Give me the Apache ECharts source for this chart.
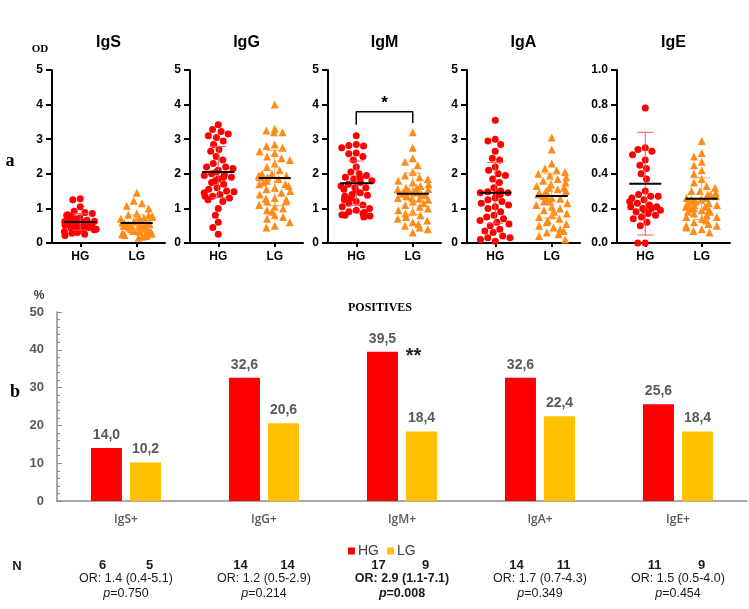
<!DOCTYPE html>
<html><head><meta charset="utf-8">
<script src="https://cdn.jsdelivr.net/npm/echarts@6/dist/echarts.min.js"></script>
<style>html,body{margin:0;padding:0;background:#fff}#c{width:749px;height:609px}</style>
</head><body><div id="c"></div>
<script>
// ---------- DATA: panel a (OD values) ----------
const panels = ['IgS', 'IgG', 'IgM', 'IgA', 'IgE'];
const groups = ['HG', 'LG'];
const yMax = [5, 5, 5, 5, 1.0];
const yInterval = [1, 1, 1, 1, 0.2];

const igS_HG = [1.28,1.25,1.05,0.92,0.88,0.85,0.82,0.8,0.78,0.75,0.72,0.7,0.7,0.68,0.66,0.65,0.63,0.62,0.6,0.6,0.58,0.57,0.55,0.55,0.53,0.52,0.5,0.5,0.48,0.47,0.45,0.44,0.42,0.4,0.4,0.38,0.36,0.35,0.33,0.3,0.28,0.25,0.22];
const igS_LG = [1.45,1.22,1.15,1.08,1.0,0.85,0.82,0.8,0.78,0.75,0.72,0.7,0.68,0.66,0.65,0.63,0.62,0.6,0.58,0.57,0.55,0.54,0.53,0.52,0.5,0.5,0.48,0.47,0.46,0.45,0.44,0.42,0.41,0.4,0.38,0.37,0.35,0.34,0.33,0.32,0.3,0.28,0.27,0.25,0.23,0.22,0.2,0.18,0.15];
const igG_HG = [3.42,3.28,3.22,3.15,3.1,3.05,2.95,2.85,2.7,2.65,2.5,2.4,2.3,2.2,2.2,2.15,2.1,2.05,2.0,1.98,1.95,1.9,1.9,1.85,1.8,1.75,1.7,1.6,1.55,1.5,1.48,1.45,1.4,1.35,1.35,1.3,1.25,1.2,1.0,0.8,0.6,0.45,0.25];
const igG_LG = [4.0,3.3,3.25,3.2,3.2,2.85,2.8,2.75,2.65,2.6,2.5,2.45,2.4,2.3,2.2,2.1,2.0,2.0,1.95,1.95,1.9,1.9,1.85,1.8,1.75,1.7,1.7,1.65,1.6,1.55,1.5,1.45,1.4,1.3,1.28,1.25,1.2,1.2,1.1,1.05,1.0,0.95,0.9,0.8,0.75,0.7,0.6,0.5,0.45];
const igM_HG = [3.1,2.85,2.82,2.8,2.75,2.6,2.58,2.5,2.4,2.2,2.05,2.0,1.95,1.9,1.88,1.85,1.8,1.75,1.7,1.65,1.6,1.6,1.55,1.5,1.45,1.4,1.38,1.35,1.3,1.25,1.2,1.15,1.1,1.05,1.0,0.95,0.9,0.88,0.85,0.82,0.8,0.78,0.75];
const igM_LG = [3.2,2.75,2.45,2.35,2.25,2.05,1.95,1.9,1.85,1.8,1.75,1.7,1.65,1.6,1.6,1.55,1.55,1.5,1.5,1.48,1.45,1.45,1.42,1.4,1.38,1.35,1.35,1.3,1.3,1.28,1.25,1.2,1.15,1.1,1.05,1.0,0.95,0.9,0.85,0.8,0.75,0.7,0.65,0.6,0.55,0.5,0.45,0.4,0.3];
const igA_HG = [3.55,3.0,2.95,2.85,2.65,2.45,2.4,2.2,2.1,2.0,1.95,1.85,1.75,1.6,1.5,1.48,1.45,1.45,1.42,1.4,1.3,1.25,1.2,1.15,1.1,1.05,1.0,0.9,0.8,0.75,0.7,0.65,0.6,0.55,0.5,0.4,0.35,0.3,0.2,0.15,0.15,0.1,0.05];
const igA_LG = [3.05,2.7,2.3,2.15,2.1,2.05,2.0,1.95,1.9,1.85,1.8,1.75,1.7,1.65,1.6,1.6,1.55,1.5,1.5,1.45,1.4,1.35,1.35,1.3,1.28,1.25,1.2,1.2,1.15,1.1,1.05,1.0,0.95,0.9,0.85,0.8,0.75,0.7,0.65,0.6,0.55,0.5,0.45,0.4,0.35,0.3,0.25,0.2,0.1];
const igE_HG = [0.78,0.55,0.54,0.53,0.51,0.48,0.45,0.43,0.40,0.37,0.30,0.28,0.27,0.27,0.26,0.25,0.24,0.23,0.22,0.21,0.21,0.20,0.20,0.19,0.19,0.18,0.17,0.16,0.15,0.14,0.12,0.10,0.0,0.0];
const igE_LG = [0.59,0.52,0.5,0.47,0.45,0.42,0.4,0.37,0.35,0.33,0.32,0.3,0.3,0.29,0.28,0.28,0.27,0.26,0.26,0.25,0.25,0.24,0.24,0.23,0.23,0.22,0.22,0.21,0.21,0.2,0.2,0.19,0.19,0.18,0.18,0.17,0.16,0.15,0.15,0.14,0.13,0.12,0.11,0.1,0.1,0.09,0.08,0.07,0.06];

const meanHG = [0.61, 2.05, 1.73, 1.45, 0.343];
const sdHG   = [0.24, 0.74, 0.64, 0.88, 0.297];
const meanLG = [0.58, 1.88, 1.42, 1.36, 0.256];
const sdLG   = [0.23, 0.80, 0.60, 0.64, 0.12];

// ---------- DATA: panel b (positives %) ----------
const barCats = ['IgS+', 'IgG+', 'IgM+', 'IgA+', 'IgE+'];
const posHG = [14.0, 32.6, 39.5, 32.6, 25.6];
const posLG = [10.2, 20.6, 18.4, 22.4, 18.4];
const nHG = [6, 14, 17, 14, 11];
const nLG = [5, 14, 9, 11, 9];
const orText = ['1.4 (0.4-5.1)', '1.2 (0.5-2.9)', '2.9 (1.1-7.1)', '1.7 (0.7-4.3)', '1.5 (0.5-4.0)'];
const pText = ['0.750', '0.214', '0.008', '0.349', '0.454'];
const significant = [false, false, true, false, false];

// ---------- LAYOUT / STYLE ----------
const points = [[igS_HG, igS_LG], [igG_HG, igG_LG], [igM_HG, igM_LG], [igA_HG, igA_LG], [igE_HG, igE_LG]];
const panelLeft = [52, 190, 328, 467, 617];
const panelW = 113;
const RED = '#ff0000', ORANGE = '#ff8c1a', YEL = '#ffc000';
const SANS = 'Liberation Sans, Arial, sans-serif';
const SERIF = 'Liberation Serif, Times New Roman, serif';

const chart = echarts.init(document.getElementById('c'), null, {renderer: 'canvas'});

const grid = [], xAxis = [], yAxis = [], series = [];
panels.forEach((p, i) => {
  grid.push({left: panelLeft[i], top: 70, width: panelW, height: 173});
  xAxis.push({
    type: 'category', gridIndex: i, data: groups,
    jitter: 32, jitterOverlap: false, jitterMargin: 0.5,
    axisLine: {lineStyle: {color: '#000', width: 2}},
    axisTick: {show: true, alignWithLabel: true, length: 4, lineStyle: {width: 2, color: '#000'}},
    axisLabel: {color: '#000', fontFamily: SANS, fontWeight: 'bold', fontSize: 12, margin: 8},
    splitLine: {show: false}
  });
  yAxis.push({
    type: 'value', gridIndex: i, min: 0, max: yMax[i], interval: yInterval[i],
    axisLine: {show: true, lineStyle: {color: '#000', width: 2}},
    axisTick: {show: true, length: 6, lineStyle: {width: 2, color: '#000'}},
    axisLabel: {color: '#000', fontFamily: SANS, fontWeight: 'bold', fontSize: 12, margin: 9,
      formatter: v => i === 4 ? v.toFixed(1) : String(v)},
    splitLine: {show: false}
  });
  series.push({
    type: 'scatter', xAxisIndex: i, yAxisIndex: i, symbol: 'circle', symbolSize: 7,
    itemStyle: {color: RED, opacity: 1}, data: points[i][0].map(v => ['HG', v]), z: 2
  });
  series.push({
    type: 'scatter', xAxisIndex: i, yAxisIndex: i, symbol: 'triangle', symbolSize: 8,
    itemStyle: {color: ORANGE, opacity: 1}, data: points[i][1].map(v => ['LG', v]), z: 2
  });
  series.push({
    type: 'custom', xAxisIndex: i, yAxisIndex: i, z: 5, silent: true,
    encode: {x: 0, y: 1},
    data: [[0, meanHG[i], sdHG[i]], [1, meanLG[i], sdLG[i]]],
    renderItem: (params, api) => {
      const x = api.value(0), m = api.value(1), s = api.value(2);
      const c = api.coord([x, m]);
      const t = api.coord([x, m + s]);
      const b = api.coord([x, Math.max(0, m - s)]);
      const col = x === 0 ? '#ff5050' : '#ffa040';
      return {type: 'group', children: [
        {type: 'line', shape: {x1: c[0], y1: t[1], x2: c[0], y2: b[1]}, style: {stroke: col, lineWidth: 1}},
        {type: 'line', shape: {x1: c[0] - 8, y1: t[1], x2: c[0] + 8, y2: t[1]}, style: {stroke: col, lineWidth: 1}},
        {type: 'line', shape: {x1: c[0] - 8, y1: b[1], x2: c[0] + 8, y2: b[1]}, style: {stroke: col, lineWidth: 1}},
        {type: 'line', shape: {x1: c[0] - 16, y1: c[1], x2: c[0] + 16, y2: c[1]}, style: {stroke: '#000', lineWidth: 2}}
      ]};
    }
  });
});

// significance bracket for IgM
series.push({
  type: 'line', xAxisIndex: 2, yAxisIndex: 2, symbol: 'none', silent: true, z: 4,
  lineStyle: {color: '#000', width: 1.5},
  data: [['HG', 3.42], ['HG', 3.79], ['LG', 3.79], ['LG', 3.47]]
});

// ---------- bar chart ----------
const BG = 5;
grid.push({left: 57, right: 2, top: 312, bottom: 108});
xAxis.push({
  type: 'category', gridIndex: BG, data: barCats, position: 'bottom',
  axisLine: {lineStyle: {color: '#8c8c8c', width: 1.5}},
  axisTick: {show: false},
  axisLabel: {color: '#595959', fontFamily: 'Open Sans, sans-serif', fontWeight: 600, fontSize: 12, margin: 13}
});
const fmt = v => v.toFixed(1).replace('.', ',');
xAxis.push({
  type: 'category', gridIndex: BG, data: barCats, position: 'bottom',
  axisLine: {show: false}, axisTick: {show: false}, splitLine: {show: false},
  axisLabel: {
    interval: 0, margin: 58,
    formatter: (v, i) => {
      const s = significant[i] ? 'b' : '';
      return `{n|${nHG[i]}}{n|${nLG[i]}}\n{or${s}|OR: ${orText[i]}}\n{pi${s}|p}{pv${s}|=${pText[i]}}`;
    },
    rich: {
      n: {fontFamily: SANS, fontWeight: 'bold', fontSize: 13, color: '#1a1a1a', width: 47, align: 'center', lineHeight: 12},
      or: {fontFamily: SANS, fontSize: 12.5, color: '#1a1a1a', align: 'center', lineHeight: 15},
      orb: {fontFamily: SANS, fontWeight: 'bold', fontSize: 12.5, color: '#1a1a1a', align: 'center', lineHeight: 15},
      pi: {fontFamily: SANS, fontStyle: 'italic', fontSize: 12.5, color: '#1a1a1a', align: 'center', lineHeight: 16},
      pv: {fontFamily: SANS, fontSize: 12.5, color: '#1a1a1a', align: 'center', lineHeight: 16},
      pib: {fontFamily: SANS, fontStyle: 'italic', fontWeight: 'bold', fontSize: 12.5, color: '#1a1a1a', align: 'center', lineHeight: 16},
      pvb: {fontFamily: SANS, fontWeight: 'bold', fontSize: 12.5, color: '#1a1a1a', align: 'center', lineHeight: 16}
    }
  }
});
yAxis.push({
  type: 'value', gridIndex: BG, min: 0, max: 50, interval: 10,
  axisLine: {show: true, lineStyle: {color: '#8c8c8c', width: 1.5}},
  axisTick: {show: true, inside: true, length: 5, lineStyle: {color: '#8c8c8c'}},
  minorTick: {show: true, splitNumber: 5, length: 3, lineStyle: {color: '#8c8c8c'}},
  axisLabel: {color: '#595959', fontFamily: SANS, fontWeight: 'bold', fontSize: 13, margin: 13},
  splitLine: {show: false}
});
const barLabel = {show: true, position: 'top', distance: 6, formatter: p => fmt(p.value),
  color: '#595959', fontFamily: SANS, fontWeight: 'bold', fontSize: 14};
series.push({
  type: 'bar', name: 'HG', xAxisIndex: 5, yAxisIndex: BG, data: posHG, barWidth: 31, barGap: '26%',
  itemStyle: {color: RED}, label: barLabel,
  markPoint: {
    symbol: 'circle', symbolSize: 1, itemStyle: {color: 'rgba(0,0,0,0)'}, silent: true,
    data: [{coord: ['IgM+', 39.5], label: {show: true, position: 'inside', formatter: '**', offset: [31, 5],
      fontFamily: SANS, fontWeight: 'bold', fontSize: 20, color: '#222'}}]
  }
});
series.push({
  type: 'bar', name: 'LG', xAxisIndex: 5, yAxisIndex: BG, data: posLG, barWidth: 31, barGap: '26%',
  itemStyle: {color: YEL}, label: barLabel
});

const txt = (text, x, y, font, align, color) => ({
  type: 'text', x, y, silent: true,
  style: {text, font, textAlign: align || 'center', textVerticalAlign: 'middle', fill: color || '#000'}
});
const panelTitles = panels.map((p, i) => txt(p, panelLeft[i] + panelW / 2, 43, 'bold 16px ' + SANS));

chart.setOption({
  animation: false,
  backgroundColor: '#fff',
  grid, xAxis, yAxis, series,
  legend: {
    data: ['HG', 'LG'], left: 343, top: 539, icon: 'rect', itemWidth: 7, itemHeight: 7, itemGap: 8,
    textStyle: {color: '#404040', fontFamily: SANS, fontSize: 14, padding: [0, 0, 0, -2]}
  },
  graphic: [
    txt('GRADE DIFFERENTIATION', 380, 8, 'bold 13px ' + SERIF),
    txt('OD', 40, 49, 'bold 11px ' + SERIF),
    txt('a', 10, 161, 'bold 18px ' + SERIF),
    txt('POSITIVES', 380, 308, 'bold 12px ' + SERIF),
    txt('%', 39, 296, 'bold 12px ' + SANS, 'center', '#404040'),
    txt('b', 15, 392, 'bold 18px ' + SERIF),
    txt('N', 17, 566, 'bold 13px ' + SANS, 'center', '#1a1a1a')
  ].concat(panelTitles)
});

// star for IgM bracket, placed midway between HG and LG
const pa = chart.convertToPixel({gridIndex: 2}, [0, 4.12]);
const pb = chart.convertToPixel({gridIndex: 2}, [1, 4.12]);
chart.setOption({graphic: [txt('*', (pa[0] + pb[0]) / 2, pa[1] + 3, 'bold 17px ' + SANS)]});
</script></body></html>
